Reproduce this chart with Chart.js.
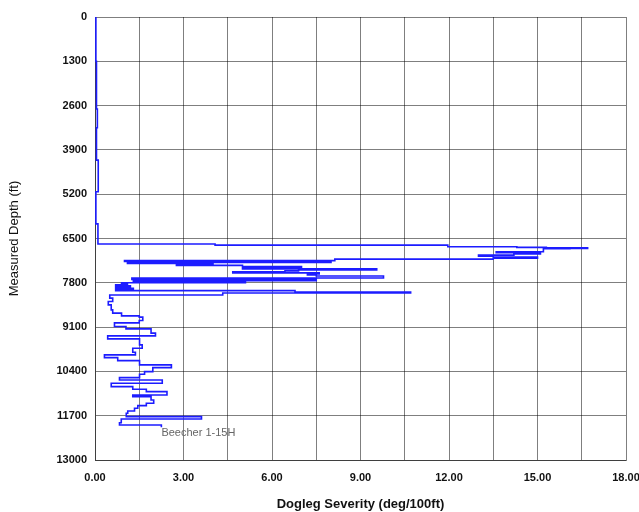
<!DOCTYPE html>
<html>
<head>
<meta charset="utf-8">
<script src="https://cdn.jsdelivr.net/npm/chart.js@4/dist/chart.umd.min.js"></script>
<style>
  html, body { margin: 0; padding: 0; background: #fff; }
  #wrap { width: 639px; height: 512px; }
</style>
</head>
<body>
<div id="wrap"><canvas id="dlsChart" width="639" height="512"></canvas></div>
<script>
// survey stations: the line steps to each value at the listed depth
const depthFt = [
    0, 1300, 2700, 3250, 4200, 5130, 6070,
    6663, 6693, 6743, 6760, 6772, 6790, 6802, 6890, 6920, 6950, 6987, 7020, 7045, 7075,
    7104, 7150, 7170, 7200, 7230, 7260, 7290, 7320, 7350, 7390, 7420, 7450, 7480, 7510,
    7540, 7570, 7600, 7660, 7700, 7740, 7770, 7800, 7830, 7860, 7890, 7920, 7960, 7990,
    8030, 8070, 8100, 8160,
    8250, 8350, 8447, 8594, 8691, 8770, 8808, 8908, 8976, 9084, 9152, 9278, 9357, 9447,
    9622, 9719, 9836, 9916, 9995, 10083, 10209, 10289, 10406, 10482, 10583, 10652, 10747,
    10847, 10923, 10994, 11091, 11141, 11238, 11335, 11405, 11482, 11561, 11629, 11728,
    11796, 11905, 11973, 12040
];
const dlsValues = [
    0.03, 0.05, 0.08, 0.05, 0.11, 0.03, 0.10,
    4.07, 11.96, 14.3, 15.3, 16.7, 16.1, 15.2, 13.6, 15.1, 14.2, 13.0, 13.5, 15.0, 13.5,
    8.13, 1.0, 8.0, 1.1, 4.0, 2.76, 5.0, 7.0, 5.0, 9.55, 6.9, 6.44, 4.67, 7.6,
    7.2, 7.5, 9.78, 1.25, 7.5, 1.3, 5.1, 0.9, 1.1, 0.7, 1.2, 0.7, 1.3, 0.7,
    6.78, 10.7, 4.33, 0.5,
    0.6, 0.45, 0.55, 0.6, 0.9, 1.5, 1.62, 1.5, 0.66, 1.05, 1.9, 2.05, 0.43, 1.51,
    1.6, 1.28, 1.37, 0.32, 0.77, 1.51, 2.59, 1.96, 1.68, 1.51, 0.83, 2.28, 0.55,
    1.28, 1.74, 2.44, 1.28, 1.9, 1.99, 1.74, 1.45, 1.34, 1.11, 1.06, 3.61,
    0.89, 0.83, 2.25, 2.25
];

const wellName = 'Beecher 1-15H';
const labelPos = { x: 2.25, y: 12216 };

const xLabelEvery = 3;

const points = depthFt.map((d, i) => ({ x: dlsValues[i], y: d }));

const wellLabel = {
    id: 'wellLabel',
    afterDatasetsDraw(chart) {
        const ctx = chart.ctx;
        const px = chart.scales.x.getPixelForValue(labelPos.x);
        const py = chart.scales.y.getPixelForValue(labelPos.y);
        ctx.save();
        ctx.font = '11px "Liberation Sans", Arial, sans-serif';
        ctx.fillStyle = '#666';
        ctx.textAlign = 'left';
        ctx.textBaseline = 'middle';
        ctx.fillText(wellName, px, py);
        ctx.restore();
    }
};

const gridColor = 'rgba(0,0,0,0.5)';
const tickFont = { family: '"Liberation Sans", Arial, sans-serif', size: 11, weight: 'bold' };

new Chart(document.getElementById('dlsChart').getContext('2d'), {
    type: 'scatter',
    data: {
        datasets: [{
            label: wellName,
            data: points,
            showLine: true,
            stepped: 'after',
            borderColor: '#1c1cff',
            borderWidth: 1.6,
            pointRadius: 0,
            fill: false
        }]
    },
    options: {
        responsive: false,
        animation: false,
        layout: { padding: { left: 0, right: 0, top: 17, bottom: 0 } },
        plugins: {
            legend: { display: false },
            tooltip: { enabled: false }
        },
        scales: {
            x: {
                type: 'linear',
                min: 0,
                max: 18,
                afterFit: (scale) => {
                    scale.height = 52;
                    scale.paddingLeft = 0;
                    scale.paddingRight = 13;
                },
                grid: { color: gridColor, lineWidth: 1, drawTicks: false },
                border: { color: gridColor },
                ticks: {
                    stepSize: 1.5,
                    padding: 11,
                    autoSkip: false,
                    maxRotation: 0,
                    color: '#111',
                    font: tickFont,
                    callback: (v) => (Math.abs(v / xLabelEvery - Math.round(v / xLabelEvery)) < 1e-6 ? v.toFixed(2) : '')
                },
                title: {
                    display: true,
                    text: 'Dogleg Severity (deg/100ft)',
                    color: '#111',
                    padding: { top: 0, bottom: 0 },
                    font: { family: '"Liberation Sans", Arial, sans-serif', size: 13, weight: 'bold' }
                }
            },
            y: {
                type: 'linear',
                reverse: true,
                min: 0,
                max: 13000,
                afterFit: (scale) => { scale.width = 95; },
                grid: { color: gridColor, lineWidth: 1, drawTicks: false },
                border: { color: gridColor },
                ticks: {
                    stepSize: 1300,
                    padding: 8,
                    autoSkip: false,
                    color: '#111',
                    font: tickFont,
                    callback: (v) => String(v)
                },
                title: {
                    display: true,
                    text: 'Measured Depth (ft)',
                    color: '#111',
                    padding: { top: 7, bottom: 0 },
                    font: { family: '"Liberation Sans", Arial, sans-serif', size: 13 }
                }
            }
        }
    },
    plugins: [wellLabel]
});
</script>
</body>
</html>
